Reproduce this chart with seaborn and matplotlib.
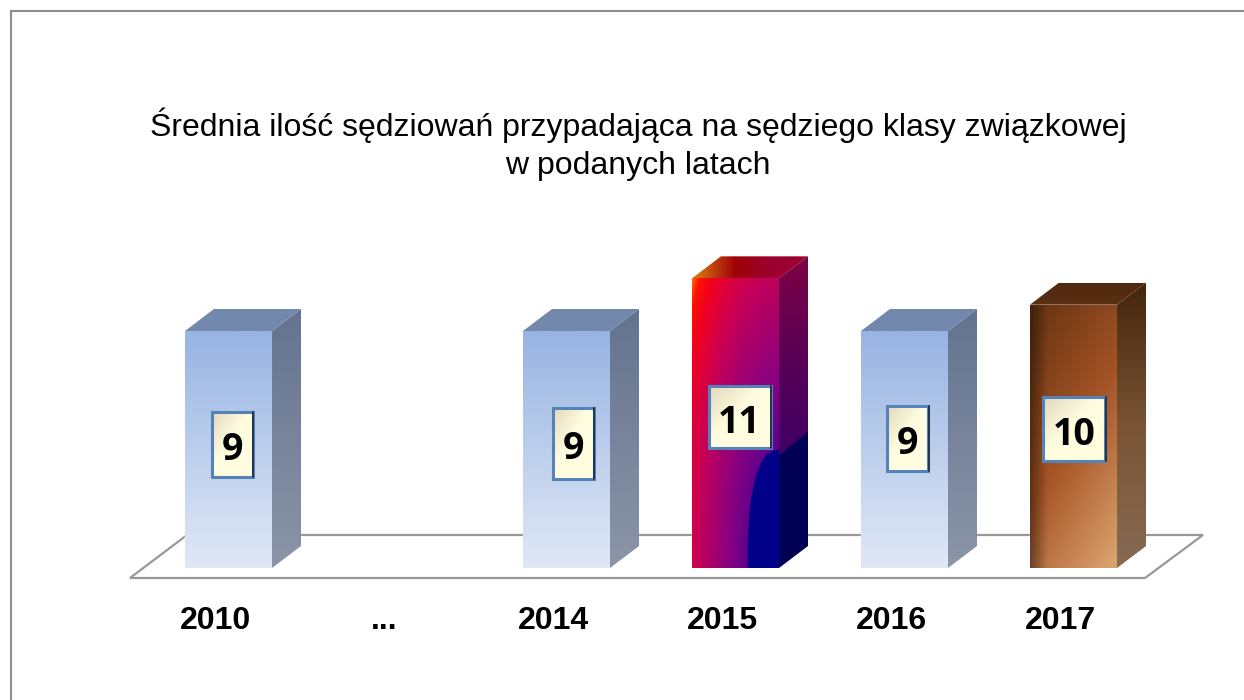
import numpy as np
import pandas as pd
import seaborn as sns
import matplotlib.pyplot as plt
from matplotlib.colors import LinearSegmentedColormap
from matplotlib.patches import Polygon, Rectangle

years = ["2010", "...", "2014", "2015", "2016", "2017"]
values = [9, np.nan, 9, 11, 9, 10]
labels = ["9", "", "9", "11", "9", "10"]
title = "Średnia ilość sędziowań przypadająca na sędziego klasy związkowej\nw podanych latach"

W, H = 1244, 700
BLUE_FRONT = ["#98b4e2", "#e0e8f6"]
BLUE_SIDE = ["#63738f", "#8c95a8"]
BLUE_TOP = ["#7288ad", "#7288ad"]
BROWN_SIDE = ["#43240d", "#7a5434", "#876a54"]
BROWN_TOP = ["#4f290f", "#5a3013"]


def to_px(ax, x, y):
    # data coordinates to figure pixels (y down)
    px, py = ax.transData.transform((x, y))
    return px, H - py


def vertical(colors):
    return LinearSegmentedColormap.from_list("v", colors)(np.linspace(0, 1, 128))[:, None, :3]


def red_img():
    # radial sweep out of the bottom right corner, with a hard navy core
    u, v = np.meshgrid(np.linspace(0, 1, 174), np.linspace(0, 1, 580))
    a = (1 - u) * 87 / 32
    c = (1 - v) * 290 / 118
    d = np.hypot(a, c)
    stops = [(1.0, "#60008c"), (1.6, "#8a0080"), (2.46, "#c0005c"), (2.7, "#d0004c"),
             (3.2, "#f00020"), (3.5, "#ff1000"), (3.67, "#ff7000")]
    pos = [(s[0] - 1) / 2.67 for s in stops]
    cm = LinearSegmentedColormap.from_list("r", list(zip(pos, [s[1] for s in stops])))
    img = cm(np.clip((d - 1) / 2.67, 0, 1))[:, :, :3]
    img[a ** 2.5 + c ** 2.5 < 1] = [0.0, 0.0, 0.54]
    return img


def brown_img():
    u, v = np.meshgrid(np.linspace(0, 1, 140), np.linspace(0, 1, 300))
    top = np.array([0.42, 0.21, 0.07])
    mid = np.array([0.65, 0.33, 0.15])
    low = np.array([0.85, 0.63, 0.42])
    s = np.clip(v * 0.72 + u * 0.38 - 0.06, 0, 1)[:, :, None]
    img = np.where(s < 0.5, top + (mid - top) * s / 0.5, mid + (low - mid) * (s - 0.5) / 0.5)
    shade = np.clip(u / 0.2, 0, 1)[:, :, None] * 0.4 + 0.6
    return img * shade


def red_side():
    u, v = np.meshgrid(np.linspace(0, 1, 40), np.linspace(0, 1, 300))
    cm = LinearSegmentedColormap.from_list("s", ["#7c0044", "#5a0055", "#420064"])
    img = cm(np.clip(v / 0.62, 0, 1))[:, :, :3]
    img[v > 0.638 - u * 0.074] = [0.0, 0.0, 0.33]
    return img


def red_top():
    u, v = np.meshgrid(np.linspace(0, 1, 120), np.linspace(0, 1, 30))
    cm = LinearSegmentedColormap.from_list("t", ["#d06a10", "#a00008", "#9c0030"])
    return cm(np.clip(u * 1.6 - 0.1, 0, 1))[:, :, :3]


def box_img():
    u, v = np.meshgrid(np.linspace(0, 1, 40), np.linspace(0, 1, 40))
    dark = np.array([0.89, 0.85, 0.74])
    light = np.array([1.0, 0.99, 0.88])
    s = np.clip((u + v) / 0.9, 0, 1)[:, :, None]
    return dark + (light - dark) * s


sns.set_style("white")
fig = plt.figure(figsize=(W / 100, H / 100), dpi=100)
ax = fig.add_axes([144 / W, (H - 568) / H, 1014 / W, 316 / H])

df = pd.DataFrame({"year": years, "value": values})
sns.barplot(data=df, x="year", y="value", order=years, width=0.515, color="#98b4e2", ax=ax, zorder=3)
ax.set_xlim(-0.5, 5.5)
ax.set_ylim(0, 12)
ax.axis("off")

# page frame and floor live in a full figure overlay measured in pixels
bg = fig.add_axes([0, 0, 1, 1], zorder=-1)
bg.set_xlim(0, W)
bg.set_ylim(H, 0)
bg.axis("off")
bg.plot([10.5, 10.5, W], [H, 10.5, 10.5], color="#8c8c8c", lw=1.5, solid_joinstyle="miter")
bg.add_patch(Polygon([(130, 578), (1145, 578), (1203, 535), (187, 535)], closed=True,
                     fc="white", ec="#989898", lw=1.6))

over = fig.add_axes([0, 0, 1, 1], zorder=3)
over.set_xlim(0, W)
over.set_ylim(H, 0)
over.axis("off")
over.patch.set_alpha(0)

DX, DY = 29, -22
box_dx = {"2010": 3.5, "2014": 6.5, "2015": 4, "2016": 3, "2017": 0.5}
box_cy = {"2010": 444, "2014": 443, "2015": 417, "2016": 438.5, "2017": 429}
box_h = {"2010": 65, "2014": 71, "2015": 62, "2016": 65, "2017": 64}


def face(img, pts):
    # gradient image clipped to a polygon given in pixels
    pts = np.array(pts)
    x0, x1 = pts[:, 0].min(), pts[:, 0].max()
    y0, y1 = pts[:, 1].min(), pts[:, 1].max()
    im = over.imshow(img, extent=(x0, x1, y1, y0), aspect="auto", interpolation="bilinear", zorder=2)
    clip = Polygon(pts, closed=True, transform=over.transData)
    im.set_clip_path(clip)


bars = [b for b in ax.patches if b.get_height() == b.get_height() and b.get_height() > 0]
shown = [i for i, v in enumerate(values) if v == v]
for i, bar in zip(shown, bars):
    bx0 = bar.get_x()
    bx1 = bx0 + bar.get_width()
    l, t = to_px(ax, bx0, bar.get_height())
    r, b = to_px(ax, bx1, 0)
    front = [(l, t), (r, t), (r, b), (l, b)]
    side = [(r, t), (r + DX, t + DY), (r + DX, b + DY), (r, b)]
    top = [(l, t), (l + DX, t + DY), (r + DX, t + DY), (r, t)]
    if years[i] == "2015":
        imgs = red_img(), red_side(), red_top()
    elif years[i] == "2017":
        imgs = brown_img(), vertical(BROWN_SIDE), vertical(BROWN_TOP)
    else:
        imgs = vertical(BLUE_FRONT), vertical(BLUE_SIDE), vertical(BLUE_TOP)
    face(imgs[0], front)
    face(imgs[1], side)
    face(imgs[2], top)

    # value label box with a bevelled edge
    cx = (l + r) / 2 + box_dx[years[i]]
    cy = box_cy[years[i]]
    bw = 41 if len(labels[i]) == 1 else 62
    bh = box_h[years[i]]
    x0, x1, y0, y1 = cx - bw / 2, cx + bw / 2, cy - bh / 2, cy + bh / 2
    over.imshow(box_img(), extent=(x0, x1, y1, y0), aspect="auto", zorder=4)
    over.add_patch(Rectangle((x0, y0), bw, bh, fill=False, ec="#5583b8", lw=2.2, zorder=5))
    over.plot([x1 + 0.5, x1 + 0.5], [y0, y1], color="#1f3550", lw=1.4, zorder=6)
    over.text(cx, cy + 6, labels[i], ha="center", va="center", fontsize=27, fontweight="bold",
              family="Open Sans", color="black", zorder=7)

# category labels sit left of the bar centres
for i, year in enumerate(years):
    px, _ = to_px(ax, i, 0)
    over.text(px - 13, 621, year, ha="center", va="center", fontsize=23, fontweight="bold",
              family="Liberation Sans", color="black")

over.text(638, 144, title, ha="center", va="center", fontsize=23, family="Liberation Sans",
          color="black", linespacing=1.34)
over.set_xlim(0, W)
over.set_ylim(H, 0)

ax.set_zorder(1)
fig.savefig("out.png", dpi=100)
